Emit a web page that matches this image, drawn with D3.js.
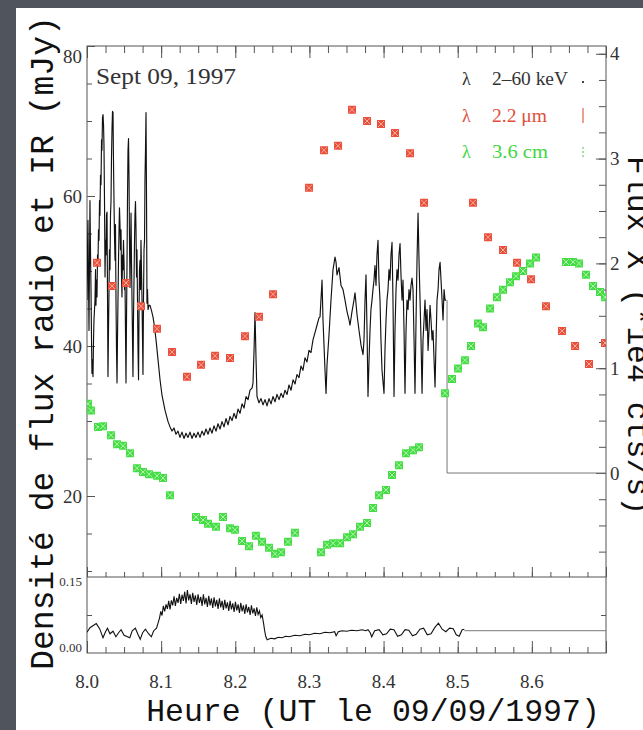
<!DOCTYPE html>
<html><head><meta charset="utf-8">
<script src="https://cdn.jsdelivr.net/npm/d3@7"></script>
<style>body{margin:0;background:#4f535b;} svg{display:block}</style>
</head><body><svg id="c" width="643" height="730"></svg>
<script>
// ---- data ----
const xTickLabels = [8.0, 8.1, 8.2, 8.3, 8.4, 8.5, 8.6];
const leftTickLabels = [20, 40, 60, 80];
const rightTickLabels = [0, 1, 2, 3, 4];
const hardTickLabels = ["0.00", "0.15"];

// 2.2 micron (IR) flux, mJy  [hour, value]
const irPoints = [
 [8.0135,51.1],[8.0337,48.0],[8.0526,48.4],[8.0728,45.3],[8.0944,42.3],[8.1146,39.2],
 [8.1349,35.9],[8.1538,37.5],[8.1727,38.7],[8.1929,38.4],[8.2131,41.3],[8.2320,43.9],
 [8.2509,46.9],[8.2994,61.1],[8.3197,66.1],[8.3386,66.7],[8.3574,71.5],[8.3777,70.0],
 [8.3965,69.6],[8.4154,68.4],[8.4357,65.7],[8.4546,59.1],[8.5206,59.1],[8.5409,54.5],
 [8.5611,52.8],[8.5800,51.1],[8.5989,48.9],[8.6191,45.3],[8.6407,42.0],[8.6583,40.0],
 [8.6771,37.6],[8.6987,40.4]
];
// 3.6 cm (radio) flux, mJy
const radioPoints = [
 [8.0013,32.3],[8.0054,31.4],[8.0148,29.2],[8.0216,29.3],[8.0324,28.1],[8.0405,26.9],
 [8.0486,26.7],[8.0580,25.7],[8.0674,23.7],[8.0755,23.2],[8.0836,22.9],[8.0944,22.7],
 [8.1025,22.4],[8.1119,20.1],[8.1470,17.2],[8.1565,16.8],[8.1632,16.3],[8.1740,15.9],
 [8.1834,17.2],[8.1929,15.7],[8.1996,15.5],[8.2091,14.0],[8.2185,13.3],[8.2279,14.7],
 [8.2360,13.9],[8.2455,13.1],[8.2536,12.3],[8.2617,12.5],[8.2711,13.9],[8.2805,15.1],
 [8.3156,12.5],[8.3237,13.5],[8.3318,13.7],[8.3413,13.7],[8.3507,14.5],[8.3588,14.9],
 [8.3682,15.9],[8.3777,16.4],[8.3858,18.4],[8.3939,20.1],[8.4033,20.8],[8.4114,22.8],
 [8.4208,24.1],[8.4303,25.7],[8.4397,26.1],[8.4478,26.5],[8.4829,33.7],[8.4923,35.6],
 [8.5004,37.0],[8.5098,38.1],[8.5179,40.0],[8.5274,43.0],[8.5341,42.5],[8.5436,45.0],
 [8.5530,46.5],[8.5611,47.5],[8.5705,48.5],[8.5786,49.3],[8.5881,50.0],[8.5975,51.0],
 [8.6056,51.8],[8.6461,51.2],[8.6555,51.2],[8.6636,51.0],[8.6730,49.5],[8.6825,48.0],
 [8.6919,47.2],[8.6987,46.5]
];
// 2-60 keV X-ray rate, 1e4 cts/s
const xrayEarly = [
 [8.0000,1.65],[8.0007,2.13],[8.0013,2.41],[8.0020,1.84],[8.0027,1.36],[8.0034,2.03],[8.0040,2.60],
 [8.0047,2.13],[8.0054,1.75],[8.0061,1.27],[8.0067,0.95],[8.0074,1.08],[8.0081,0.92],[8.0088,1.27],
 [8.0094,1.46],[8.0108,1.65],[8.0115,1.94],[8.0121,1.60],[8.0128,1.84],[8.0135,1.68],[8.0142,2.08],
 [8.0148,1.98],[8.0155,2.32],[8.0162,2.22],[8.0169,2.60],[8.0175,2.46],[8.0182,2.84],[8.0189,2.75],
 [8.0196,3.18],[8.0202,3.08],[8.0209,3.39],[8.0216,3.42],[8.0223,3.32],[8.0229,3.13],[8.0236,2.60],
 [8.0243,1.87],[8.0250,2.22],[8.0256,2.08],[8.0263,2.46],[8.0270,2.49],[8.0277,1.65],[8.0283,0.92],
 [8.0290,1.36],[8.0297,1.75],[8.0303,2.13],[8.0310,1.94],[8.0317,2.46],[8.0324,2.60],[8.0330,2.99],
 [8.0337,3.27],[8.0344,3.45],[8.0351,3.44],[8.0357,2.99],[8.0364,2.60],[8.0371,2.25],[8.0378,2.03],
 [8.0384,2.37],[8.0391,1.65],[8.0398,1.17],[8.0405,0.86],[8.0411,1.27],[8.0418,1.65],[8.0425,2.03],
 [8.0432,2.32],[8.0438,2.53],[8.0445,2.37],[8.0452,2.13],[8.0459,2.32],[8.0465,1.89],[8.0472,1.68],
 [8.0479,2.08],[8.0486,1.94],[8.0492,2.22],[8.0499,2.03],[8.0506,1.75],[8.0513,1.82],[8.0519,1.36],
 [8.0526,0.86],[8.0533,1.46],[8.0540,2.03],[8.0546,2.60],[8.0553,3.08],[8.0560,3.19],[8.0567,2.80],
 [8.0573,2.22],[8.0580,1.77],[8.0587,2.13],[8.0594,2.48],[8.0600,2.03],[8.0607,1.65],[8.0614,1.27],
 [8.0620,0.92],[8.0627,1.46],[8.0634,1.84],[8.0641,2.22],[8.0647,2.46],[8.0654,2.59],[8.0661,2.32],
 [8.0668,1.87],[8.0674,2.13],[8.0681,1.65],[8.0688,1.17],[8.0695,0.89],[8.0701,1.46],[8.0708,1.94],
 [8.0715,2.03],[8.0722,1.75],[8.0728,2.22],[8.0735,1.94],[8.0742,1.65],[8.0749,1.27],[8.0755,0.94],
 [8.0762,1.65],[8.0769,2.13],[8.0776,2.22],[8.0782,2.80],[8.0789,3.08],[8.0796,3.44],[8.0803,2.60],
 [8.0809,1.62],[8.0816,1.75],[8.0823,1.56],[8.0836,1.60]
];
const xrayMid = [
 [8.0850,1.60],[8.0870,1.55],[8.0890,1.49],[8.0910,1.40],[8.0931,1.27],[8.0958,1.08],[8.0985,0.89],
 [8.1012,0.74],[8.1052,0.60],[8.1093,0.49],[8.1120,0.44],[8.1146,0.40],[8.1173,0.43],[8.1200,0.37],
 [8.1227,0.40],[8.1254,0.34],[8.1281,0.39],[8.1308,0.33],[8.1335,0.38],[8.1362,0.34],[8.1389,0.39],
 [8.1416,0.33],[8.1443,0.38],[8.1470,0.34],[8.1497,0.39],[8.1524,0.34],[8.1551,0.40],[8.1578,0.36],
 [8.1605,0.42],[8.1632,0.37],[8.1659,0.43],[8.1686,0.38],[8.1713,0.45],[8.1740,0.40],[8.1767,0.47],
 [8.1794,0.42],[8.1821,0.49],[8.1848,0.44],[8.1875,0.52],[8.1902,0.46],[8.1929,0.54],[8.1956,0.50],
 [8.1983,0.57],[8.2010,0.52],[8.2037,0.61],[8.2064,0.57],[8.2091,0.66],[8.2118,0.62],[8.2145,0.73],
 [8.2172,0.70],[8.2199,0.79],[8.2226,0.81],[8.2239,0.86],[8.2253,1.17],[8.2266,1.53],[8.2280,1.08],
 [8.2293,0.73],[8.2320,0.67],[8.2347,0.71],[8.2374,0.65],[8.2401,0.70],[8.2428,0.64],[8.2455,0.71],
 [8.2482,0.66],[8.2509,0.73],[8.2536,0.68],[8.2563,0.75],[8.2590,0.70],[8.2617,0.76],[8.2644,0.72],
 [8.2671,0.79],[8.2698,0.75],[8.2725,0.84],[8.2752,0.79],[8.2779,0.89],[8.2806,0.85],[8.2832,0.94],
 [8.2859,0.91],[8.2886,1.02],[8.2913,0.98],[8.2940,1.10],[8.2967,1.06],[8.2994,1.17],[8.3021,1.15],
 [8.3048,1.27],[8.3075,1.34],[8.3102,1.41],[8.3129,1.48],[8.3143,1.49]
];
const xrayLate = [
 [8.3170,1.84],[8.3183,1.46],[8.3210,0.98],[8.3224,0.76],[8.3237,1.03],[8.3264,1.32],[8.3291,1.65],
 [8.3318,1.94],[8.3345,2.06],[8.3359,2.01],[8.3372,1.89],[8.3399,1.96],[8.3426,1.79],[8.3453,1.75],
 [8.3480,1.65],[8.3507,1.54],[8.3534,1.46],[8.3547,1.41],[8.3574,1.54],[8.3601,1.65],[8.3615,1.72],
 [8.3642,1.51],[8.3669,1.36],[8.3696,1.22],[8.3723,1.13],[8.3736,1.27],[8.3750,1.65],[8.3763,1.89],
 [8.3777,1.36],[8.3790,0.73],[8.3804,1.08],[8.3817,1.36],[8.3830,1.56],[8.3844,1.65],[8.3857,1.75],
 [8.3871,1.84],[8.3884,1.98],[8.3898,1.79],[8.3911,2.08],[8.3925,2.22],[8.3938,1.84],[8.3952,1.65],
 [8.3965,1.27],[8.3979,0.98],[8.4006,0.76],[8.4019,1.17],[8.4033,1.46],[8.4046,1.65],[8.4060,1.75],
 [8.4073,1.94],[8.4087,1.84],[8.4100,2.08],[8.4114,2.20],[8.4127,1.65],[8.4141,0.73],[8.4154,1.36],
 [8.4168,1.75],[8.4181,1.94],[8.4195,1.84],[8.4208,2.08],[8.4222,2.19],[8.4235,1.89],[8.4249,1.65],
 [8.4262,1.84],[8.4276,1.36],[8.4289,0.76],[8.4303,1.36],[8.4316,1.65],[8.4330,1.56],[8.4343,1.75],
 [8.4357,1.65],[8.4370,1.79],[8.4384,1.86],[8.4397,1.75],[8.4411,1.27],[8.4424,0.76],[8.4438,1.46],
 [8.4451,2.03],[8.4465,2.48],[8.4478,2.03],[8.4492,1.65],[8.4505,1.27],[8.4519,0.76],[8.4532,1.27],
 [8.4546,1.46],[8.4559,1.65],[8.4573,1.36],[8.4586,1.56],[8.4600,1.17],[8.4613,1.36],[8.4627,1.60],
 [8.4640,1.46],[8.4654,1.27],[8.4667,1.36],[8.4681,1.08],[8.4694,0.82],[8.4708,1.27],[8.4721,1.65],
 [8.4735,1.75],[8.4748,1.94],[8.4762,2.01],[8.4775,1.84],[8.4789,1.65],[8.4802,1.46],[8.4816,1.75],
 [8.4829,1.65],[8.4843,1.65]
];
const xrayTail = [[8.4856,1.65],[8.4856,0],[8.70,0]];
// bottom panel ratio
const hardPoints = [
 [8.000,0.041],[8.004,0.050],[8.0125,0.058],[8.017,0.048],[8.0216,0.030],[8.025,0.042],
 [8.0276,0.049],[8.031,0.038],[8.0351,0.043],[8.039,0.032],[8.0426,0.040],[8.046,0.046],
 [8.050,0.035],[8.0577,0.030],[8.061,0.044],[8.0652,0.049],[8.069,0.036],[8.0718,0.027],
 [8.075,0.040],[8.0788,0.047],[8.083,0.038],[8.0868,0.032],[8.090,0.044],[8.0938,0.049],
 [8.0978,0.069],[8.0995,0.082],[8.1012,0.074],[8.1030,0.093],[8.1048,0.082],[8.1066,0.096],
 [8.1084,0.087],[8.1102,0.103],[8.1120,0.086],[8.1138,0.104],[8.1156,0.094],[8.1174,0.112],
 [8.1192,0.093],[8.1210,0.109],[8.1228,0.099],[8.1246,0.117],[8.1264,0.097],[8.1282,0.115],
 [8.1300,0.103],[8.1318,0.121],[8.1336,0.098],[8.1354,0.124],[8.1372,0.104],[8.1390,0.116],
 [8.1408,0.097],[8.1426,0.119],[8.1444,0.101],[8.1462,0.114],[8.1480,0.095],[8.1498,0.116],
 [8.1516,0.099],[8.1534,0.111],[8.1552,0.093],[8.1570,0.116],[8.1588,0.096],[8.1606,0.109],
 [8.1624,0.091],[8.1642,0.113],[8.1660,0.094],[8.1678,0.108],[8.1696,0.089],[8.1714,0.110],
 [8.1732,0.092],[8.1750,0.105],[8.1768,0.087],[8.1786,0.108],[8.1804,0.090],[8.1822,0.103],
 [8.1840,0.085],[8.1858,0.105],[8.1876,0.088],[8.1894,0.100],[8.1912,0.083],[8.1930,0.103],
 [8.1948,0.086],[8.1966,0.098],[8.1984,0.081],[8.2002,0.101],[8.2020,0.084],[8.2038,0.096],
 [8.2056,0.079],[8.2074,0.099],[8.2092,0.082],[8.2110,0.094],[8.2128,0.077],[8.2146,0.096],
 [8.2164,0.080],[8.2182,0.091],[8.2200,0.075],[8.2218,0.094],[8.2236,0.078],[8.2254,0.088],
 [8.2272,0.073],[8.2290,0.090],[8.2308,0.076],[8.2326,0.083],[8.2344,0.070],[8.2362,0.075],
 [8.2380,0.060],[8.2395,0.045],[8.2410,0.033],[8.2430,0.026],[8.248,0.029],
 [8.253,0.028],[8.258,0.031],[8.263,0.030],[8.268,0.033],[8.273,0.032],[8.280,0.035],
 [8.287,0.034],[8.294,0.037],[8.300,0.036],[8.307,0.039],[8.314,0.038],[8.321,0.041],
 [8.328,0.040],[8.334,0.042],[8.336,0.034],[8.339,0.042],[8.344,0.044],[8.350,0.043],
 [8.357,0.045],[8.364,0.044],[8.371,0.046],[8.376,0.044],[8.379,0.046],[8.382,0.040],
 [8.384,0.032],[8.388,0.044],[8.394,0.046],[8.399,0.036],[8.404,0.038],[8.409,0.047],
 [8.414,0.046],[8.419,0.033],[8.424,0.036],[8.429,0.046],[8.434,0.045],[8.439,0.034],
 [8.444,0.037],[8.449,0.047],[8.454,0.049],[8.459,0.036],[8.464,0.038],[8.469,0.050],
 [8.474,0.059],[8.479,0.047],[8.484,0.042],[8.489,0.049],[8.494,0.048],[8.498,0.036],
 [8.502,0.033],[8.506,0.046],[8.509,0.047]
];
const hardTail = [[8.509,0.044],[8.70,0.044]];

// ---- drawing ----
const svg = d3.select("#c");
const L=87, R=606, T=46, M=577, B=653;
const x  = d3.scaleLinear().domain([8.0, 8.7]).range([L, R]);
const yL = d3.scaleLinear().domain([9.2, 80]).range([M, T]);
const yR = d3.scaleLinear().domain([-0.992, 4.074]).range([M, T]);
const yH = d3.scaleLinear().domain([0, 0.15]).range([B, M]);

svg.append("rect").attr("width",643).attr("height",730).attr("fill","#50545c");
svg.append("rect").attr("x",16).attr("y",8).attr("width",627).attr("height",722).attr("fill","#ffffff");

const defs = svg.append("defs");
defs.append("clipPath").attr("id","clipMain").append("rect").attr("x",L).attr("y",T).attr("width",R-L).attr("height",M-T);
defs.append("clipPath").attr("id","clipLow").append("rect").attr("x",L).attr("y",M).attr("width",R-L).attr("height",B-M);

const axisCol = "#555";
function styleAxis(g){ g.select(".domain").remove(); g.selectAll("line").attr("stroke",axisCol).attr("stroke-width",1); g.selectAll("text").remove(); }

const minorX = d3.range(0,29).map(i=>8.0+i*0.025);
const majorX = d3.range(0,8).map(i=>8.0+i*0.1);
svg.append("g").attr("transform",`translate(0,${T})`).call(d3.axisBottom(x).tickValues(minorX).tickSize(7)).call(styleAxis);
svg.append("g").attr("transform",`translate(0,${T})`).call(d3.axisBottom(x).tickValues(majorX).tickSize(12)).call(styleAxis);
svg.append("g").attr("transform",`translate(0,${M})`).call(d3.axisTop(x).tickValues(minorX).tickSize(5)).call(styleAxis);
svg.append("g").attr("transform",`translate(0,${M})`).call(d3.axisTop(x).tickValues(majorX).tickSize(10)).call(styleAxis);
svg.append("g").attr("transform",`translate(0,${B})`).call(d3.axisTop(x).tickValues(minorX).tickSize(6)).call(styleAxis);
svg.append("g").attr("transform",`translate(0,${B})`).call(d3.axisTop(x).tickValues(majorX).tickSize(12)).call(styleAxis);
const leftMinor = d3.range(10,81,5);
svg.append("g").attr("transform",`translate(${L},0)`).call(d3.axisRight(yL).tickValues(leftMinor).tickSize(5)).call(styleAxis);
svg.append("g").attr("transform",`translate(${L},0)`).call(d3.axisRight(yL).tickValues(leftTickLabels).tickSize(8)).call(styleAxis);
const rightMinor = d3.range(-3,17).map(i=>i*0.25);
svg.append("g").attr("transform",`translate(${R},0)`).call(d3.axisLeft(yR).tickValues(rightMinor).tickSize(7)).call(styleAxis);
svg.append("g").attr("transform",`translate(${R},0)`).call(d3.axisLeft(yR).tickValues(rightTickLabels).tickSize(10)).call(styleAxis);
svg.append("g").attr("transform",`translate(${L},0)`).call(d3.axisRight(yH).tickValues([0.075]).tickSize(5)).call(styleAxis);
svg.append("g").attr("transform",`translate(${R},0)`).call(d3.axisLeft(yH).tickValues([0.075]).tickSize(5)).call(styleAxis);

svg.append("rect").attr("x",L).attr("y",T).attr("width",R-L).attr("height",B-T).attr("fill","none").attr("stroke",axisCol).attr("stroke-width",1);
svg.append("line").attr("x1",L).attr("x2",R).attr("y1",M).attr("y2",M).attr("stroke",axisCol).attr("stroke-width",1.2);

const serif = "'Liberation Serif','Times New Roman',serif";
svg.append("g").selectAll("text").data(xTickLabels).join("text")
  .attr("x",d=>x(d)).attr("y",688).attr("text-anchor","middle")
  .attr("font-family",serif).attr("font-size",19).attr("fill","#333").text(d=>d.toFixed(1));
svg.append("g").selectAll("text").data(leftTickLabels).join("text")
  .attr("x",82).attr("y",d=>yL(d)+(d===80?10:0)).attr("dy","0.35em").attr("text-anchor","end")
  .attr("font-family",serif).attr("font-size",19).attr("fill","#333").text(d=>d);
svg.append("g").selectAll("text").data(rightTickLabels).join("text")
  .attr("x",610).attr("y",d=>yR(d)).attr("dy","0.35em").attr("text-anchor","start")
  .attr("font-family",serif).attr("font-size",19).attr("fill","#333").text(d=>d);
svg.append("g").selectAll("text").data(hardTickLabels).join("text")
  .attr("x",82).attr("y",d=>+d===0?yH(+d)-1:yH(+d)+9).attr("text-anchor","end")
  .attr("font-family",serif).attr("font-size",13).attr("fill","#333").text(d=>d);

const lineR = d3.line().x(d=>x(d[0])).y(d=>yR(d[1]));
const gMain = svg.append("g").attr("clip-path","url(#clipMain)");
gMain.append("path").attr("d",lineR(xrayTail)).attr("fill","none").attr("stroke","#777").attr("stroke-width",1);
gMain.append("path").attr("d",lineR(xrayEarly.concat(xrayMid, xrayLate))).attr("fill","none")
  .attr("stroke","#111").attr("stroke-width",1.15).attr("stroke-linejoin","round");

function marker(g, data, fill, hatch){
  const s = 8;
  const m = g.selectAll(null).data(data).join("g")
    .attr("transform",d=>`translate(${x(d[0])},${yL(d[1])})`);
  m.append("rect").attr("x",-s/2).attr("y",-s/2).attr("width",s).attr("height",s).attr("fill",fill);
  m.append("path").attr("d",`M${-s/2+1},${-s/2+1}L${s/2-1},${s/2-1}M${s/2-1},${-s/2+1}L${-s/2+1},${s/2-1}`)
    .attr("stroke",hatch).attr("stroke-width",1).attr("fill","none");
}
marker(gMain, irPoints, "#ea4f3b", "#f7ad9c");
marker(gMain, radioPoints, "#45dd45", "#b4f4ae");

const lineH = d3.line().x(d=>x(d[0])).y(d=>yH(d[1]));
const gLow = svg.append("g").attr("clip-path","url(#clipLow)");
gLow.append("path").attr("d",lineH(hardTail)).attr("fill","none").attr("stroke","#777").attr("stroke-width",1);
gLow.append("path").attr("d",lineH(hardPoints)).attr("fill","none").attr("stroke","#111").attr("stroke-width",1.1);

svg.append("text").attr("x",96).attr("y",84).attr("font-family",serif).attr("font-size",23)
  .attr("textLength",140).attr("lengthAdjust","spacingAndGlyphs").attr("fill","#333").text("Sept 09, 1997");
const legend = [
  {label:"2\u201360 keV", color:"#333", y:85, w:76},
  {label:"2.2 \u03bcm", color:"#e0503c", y:122, w:55},
  {label:"3.6 cm", color:"#3fd63f", y:158, w:56}
];
const lg = svg.append("g");
lg.selectAll("text.l").data(legend).join("text").attr("class","l")
  .attr("x",462).attr("y",d=>d.y).attr("font-family",serif).attr("font-size",18).attr("fill",d=>d.color).text("\u03bb");
lg.selectAll("text.v").data(legend).join("text").attr("class","v")
  .attr("x",492).attr("y",d=>d.y).attr("font-family",serif).attr("font-size",18)
  .attr("textLength",d=>d.w).attr("lengthAdjust","spacingAndGlyphs").attr("fill",d=>d.color).text(d=>d.label);
lg.append("rect").attr("x",582).attr("y",81).attr("width",2).attr("height",2).attr("fill","#444");
lg.append("line").attr("x1",583).attr("x2",583).attr("y1",108).attr("y2",123).attr("stroke","#e0604c").attr("stroke-width",1.2);
lg.append("line").attr("x1",583).attr("x2",583).attr("y1",147).attr("y2",157).attr("stroke","#5ad65a").attr("stroke-width",1.2).attr("stroke-dasharray","2,2");

const mono = "'Liberation Mono','Courier New',monospace";
svg.append("text").attr("transform","translate(53,343) rotate(-90)").attr("text-anchor","middle")
  .attr("font-family",mono).attr("font-size",33).attr("fill","#111").text("Densité de flux radio et IR (mJy)");
svg.append("text").attr("x",373).attr("y",721).attr("text-anchor","middle")
  .attr("font-family",mono).attr("font-size",31.5).attr("fill","#111").text("Heure (UT le 09/09/1997)");
svg.append("text").attr("transform","translate(628,156) rotate(90)").attr("text-anchor","start")
  .attr("font-family",mono).attr("font-size",31.5).attr("fill","#111").text("Flux X (*1e4 cts/s)");
</script>
</body></html>
